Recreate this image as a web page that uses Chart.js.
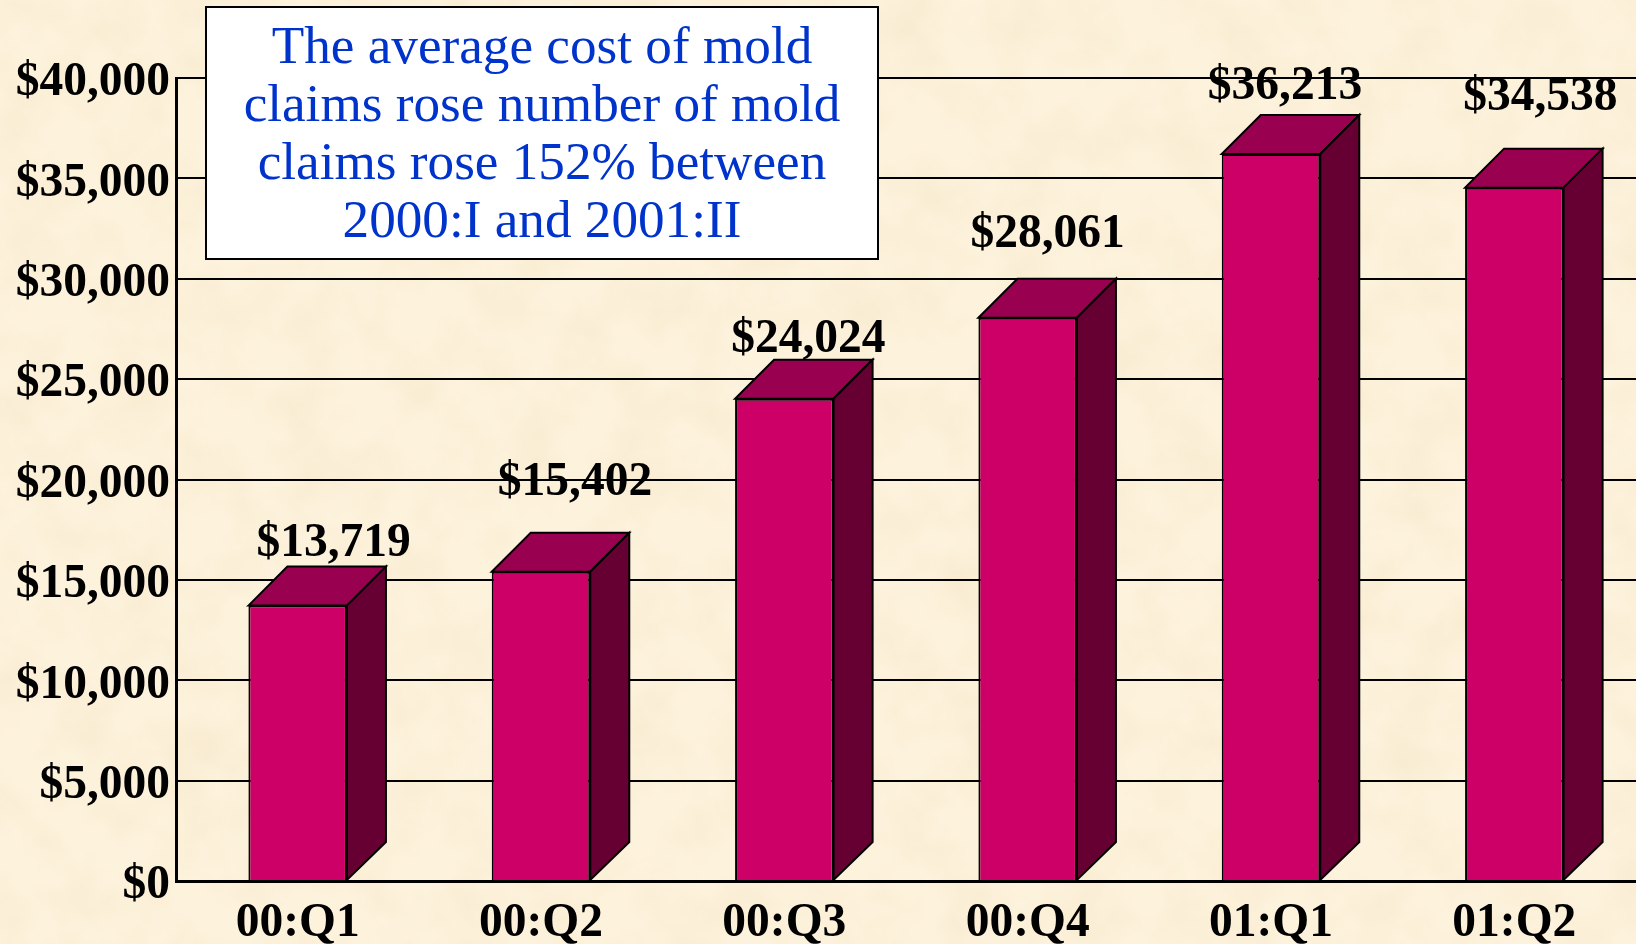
<!DOCTYPE html>
<html>
<head>
<meta charset="utf-8">
<style>
html,body{margin:0;padding:0;width:1636px;height:944px;overflow:hidden;background-color:#fdf2dc;
background-image:url("data:image/svg+xml,%3Csvg xmlns='http://www.w3.org/2000/svg' width='1636' height='944'%3E%3Cfilter id='n' x='0' y='0' width='100%25' height='100%25'%3E%3CfeTurbulence type='fractalNoise' baseFrequency='0.018' numOctaves='5' seed='7'/%3E%3CfeColorMatrix values='0 0 0 0 0.93 0 0 0 0 0.82 0 0 0 0 0.62 1.4 0 0 0 -0.52'/%3E%3C/filter%3E%3Crect width='1636' height='944' filter='url(%23n)'/%3E%3C/svg%3E");}
canvas{display:block;position:absolute;left:0;top:0}
</style>
<script src="https://cdn.jsdelivr.net/npm/chart.js@4"></script>
</head>
<body>
<canvas id="c" width="1636" height="944"></canvas>
<script>
const categories = ['00:Q1','00:Q2','00:Q3','00:Q4','01:Q1','01:Q2'];
const costs = [13719,15402,24024,28061,36213,34538];
const valueLabels = ['$13,719','$15,402','$24,024','$28,061','$36,213','$34,538'];
const noteLines = ['The average cost of mold','claims rose number of mold','claims rose 152% between','2000:I and 2001:II'];

// layout only: nudges of each value label from its bar's top centre
const labelNudgeX = [36,34,24,20,14,26];
const labelNudgeY = [-62,-89,-59,-83,-67,-90];
const DEPTH = 39, DEPTH_BASE = 38;
const SERIF = '"Liberation Serif","Times New Roman",serif';

const poly = (ctx, pts, fill) => {
  ctx.beginPath();
  pts.forEach((p,i)=> i ? ctx.lineTo(p[0],p[1]) : ctx.moveTo(p[0],p[1]));
  ctx.closePath();
  ctx.fillStyle = fill; ctx.fill();
  ctx.lineWidth = 2; ctx.strokeStyle = '#000'; ctx.lineJoin='miter'; ctx.stroke();
};

const box3d = {
  id:'box3d',
  afterDatasetsDraw(chart){
    const ctx = chart.ctx, meta = chart.getDatasetMeta(0);
    ctx.save();
    meta.data.forEach((bar)=>{
      const half = bar.width/2, l = bar.x-half, r = bar.x+half, t = bar.y, b = bar.base;
      poly(ctx, [[l,t],[l+DEPTH,t-DEPTH],[r+DEPTH,t-DEPTH],[r,t]], '#990050');
      poly(ctx, [[r,t],[r+DEPTH,t-DEPTH],[r+DEPTH,b-DEPTH_BASE],[r,b]], '#660033');
    });
    ctx.fillStyle='#000';
    ctx.font = 'bold 47.5px '+SERIF;
    ctx.textAlign='center'; ctx.textBaseline='middle';
    meta.data.forEach((bar,i)=>{
      ctx.fillText(valueLabels[i], bar.x+labelNudgeX[i], bar.y+labelNudgeY[i]);
    });
    ctx.restore();
  },
  afterDraw(chart){
    const ctx = chart.ctx;
    ctx.save();
    ctx.fillStyle='#fff'; ctx.strokeStyle='#000'; ctx.lineWidth=2;
    ctx.fillRect(206,7,672,252); ctx.strokeRect(206,7,672,252);
    ctx.fillStyle='#0033cc';
    ctx.font='53.2px '+SERIF;
    ctx.textAlign='center'; ctx.textBaseline='middle';
    noteLines.forEach((s,i)=>ctx.fillText(s,542,49+i*58));
    ctx.restore();
  }
};

new Chart(document.getElementById('c'),{
  type:'bar',
  data:{labels:categories,datasets:[{data:costs,backgroundColor:'#cc0066',borderColor:'#000',borderWidth:2,
    barPercentage:0.405,categoryPercentage:1}]},
  plugins:[box3d],
  options:{
    responsive:false,animation:false,
    layout:{padding:{top:78,right:0,bottom:0,left:0}},
    plugins:{legend:{display:false},tooltip:{enabled:false},title:{display:false}},
    scales:{
      x:{
        afterFit(s){s.height=63;},
        grid:{display:false,drawTicks:false},
        border:{color:'#000',width:3},
        ticks:{color:'#000',padding:14,maxRotation:0,autoSkip:false,font:{family:SERIF,weight:'bold',size:47.5}}
      },
      y:{
        min:0,max:40000,
        afterFit(s){s.width=176;},
        grid:{color:'#000',lineWidth:2,drawTicks:false},
        border:{color:'#000',width:3},
        ticks:{stepSize:5000,color:'#000',padding:6,labelOffset:5,font:{family:SERIF,weight:'bold',size:47.5},
          callback:v=>'$'+v.toLocaleString('en-US')}
      }
    }
  }
});
</script>
</body>
</html>
